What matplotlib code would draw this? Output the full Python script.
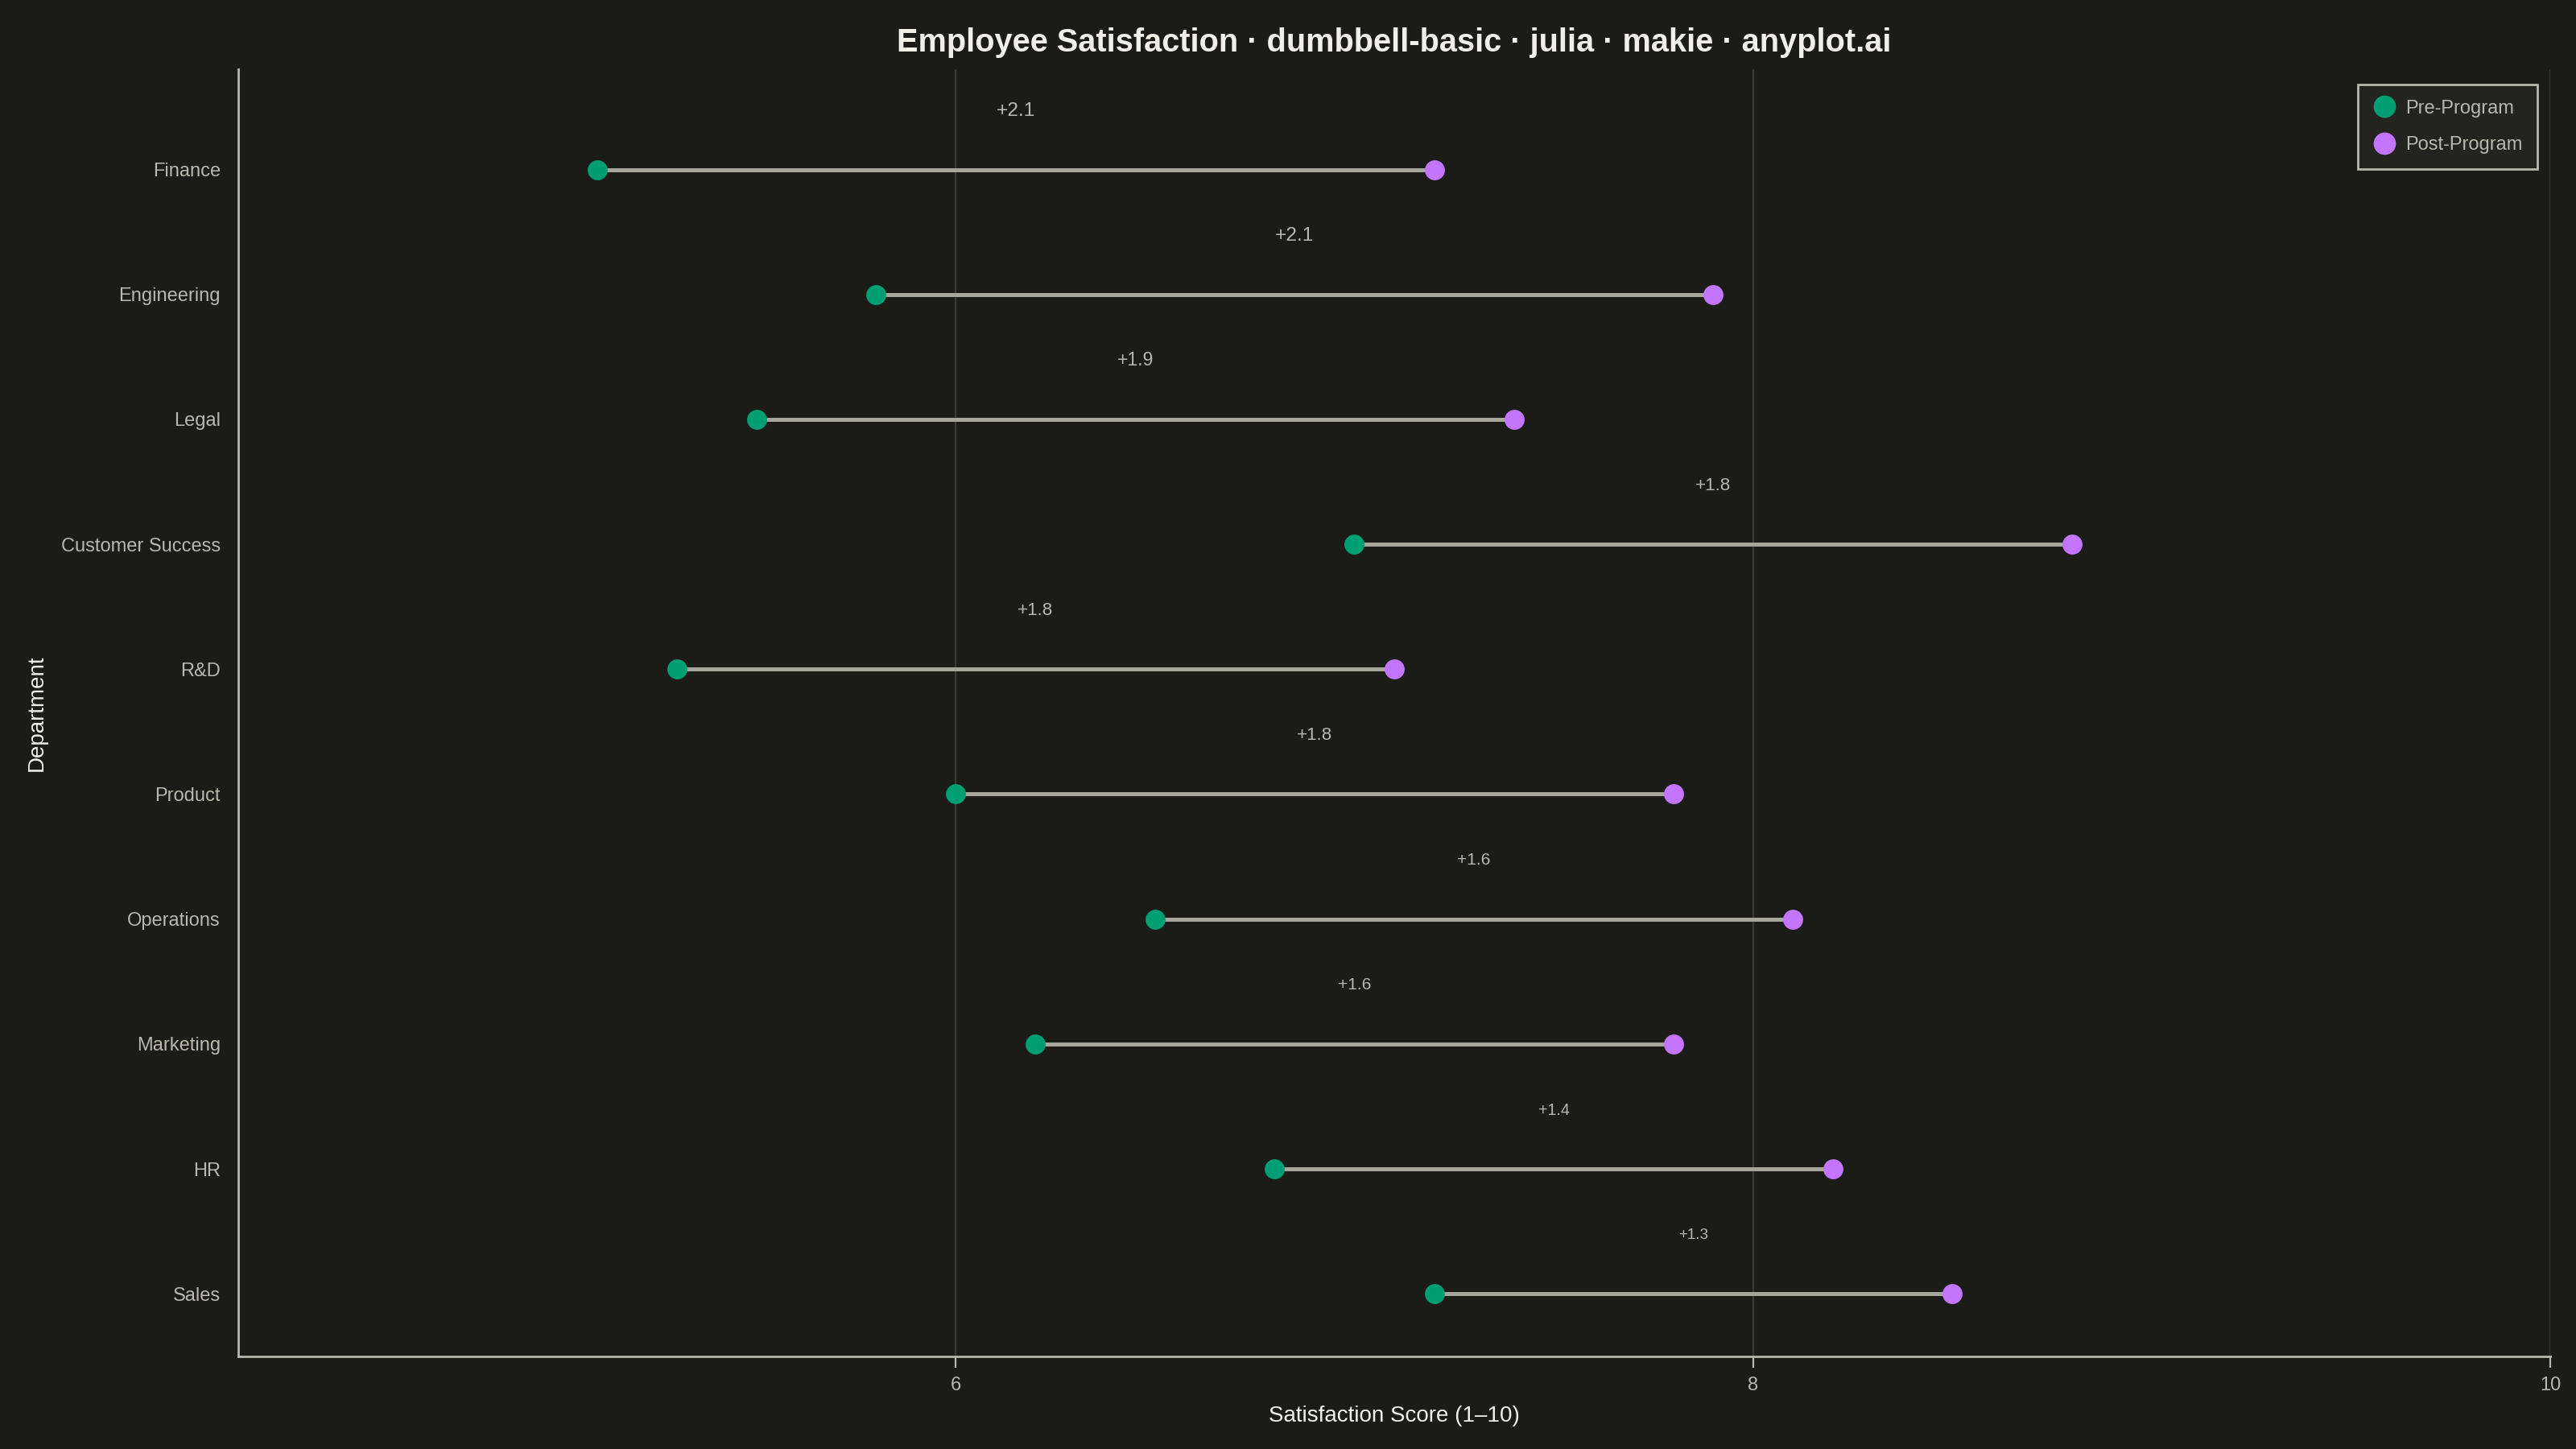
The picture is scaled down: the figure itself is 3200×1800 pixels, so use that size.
import matplotlib
matplotlib.use("Agg")
import matplotlib.pyplot as plt
from matplotlib.lines import Line2D

# data, top row first as in the chart
departments = ["Finance", "Engineering", "Legal", "Customer Success", "R&D",
               "Product", "Operations", "Marketing", "HR", "Sales"]
pre_scores = [5.1, 5.8, 5.5, 7.0, 5.3, 6.0, 6.5, 6.2, 6.8, 7.2]
post_scores = [7.2, 7.9, 7.4, 8.8, 7.1, 7.8, 8.1, 7.8, 8.2, 8.5]
x_ticks = [6, 8, 10]

BG = "#1b1b17"
FG = "#f0efe8"
MUTED = "#b8b8ae"
PRE = "#009E73"
POST = "#C475FD"
LINE = "#a6a69c"

plt.rcParams["font.family"] = ["Liberation Sans", "DejaVu Sans"]

fig = plt.figure(figsize=(16, 9), dpi=200, facecolor=BG)
ax = fig.add_axes([0.0925, 0.064, 0.8975, 0.888], facecolor=BG)

n = len(departments)
ys = [n - 1 - i for i in range(n)]
diffs = [b - a for a, b in zip(pre_scores, post_scores)]
dmin, dmax = min(diffs), max(diffs)

for y, a, b, d in zip(ys, pre_scores, post_scores, diffs):
    ax.plot([a, b], [y, y], color=LINE, lw=1.8, zorder=2, solid_capstyle="butt")
    fs = 6.8 + (d - dmin) / (dmax - dmin) * 2.0
    ax.text((a + b) / 2, y + 0.47, f"+{d:.1f}", color=MUTED, fontsize=fs,
            ha="center", va="center", zorder=4)

ax.scatter(pre_scores, ys, s=80, color=PRE, zorder=3, linewidths=0)
ax.scatter(post_scores, ys, s=80, color=POST, zorder=3, linewidths=0)

ax.set_xlim(4.2, 10)
ax.set_ylim(-0.5, 9.8)
ax.set_xticks(x_ticks)
ax.set_xticklabels([str(t) for t in x_ticks])
ax.set_yticks(ys)
ax.set_yticklabels(departments)

ax.grid(axis="x", color="#3a3a34", lw=0.8, zorder=0)
ax.set_axisbelow(True)
for side in ["top", "right"]:
    ax.spines[side].set_visible(False)
for side in ["left", "bottom"]:
    ax.spines[side].set_color(MUTED)
    ax.spines[side].set_linewidth(1.0)

ax.tick_params(axis="x", colors=MUTED, labelsize=8.5, length=5, width=0.8, direction="out", pad=4)
ax.tick_params(axis="y", colors=MUTED, labelsize=8.5, length=0, pad=8)

ax.set_xlabel("Satisfaction Score (1\u201310)", color=FG, fontsize=10, labelpad=5)
ax.set_ylabel("Department", color=FG, fontsize=10, labelpad=6)
ax.set_title("Employee Satisfaction \u00b7 dumbbell-basic \u00b7 julia \u00b7 makie \u00b7 anyplot.ai",
             color=FG, fontsize=14.3, fontweight="bold", pad=8)

handles = [
    Line2D([], [], marker="o", ls="", color=PRE, markersize=9, label="Pre-Program"),
    Line2D([], [], marker="o", ls="", color=POST, markersize=9, label="Post-Program"),
]
leg = ax.legend(handles=handles, loc="upper right", fontsize=8.5, frameon=True,
                facecolor="#23231f", edgecolor=MUTED, labelcolor=MUTED, fancybox=False,
                borderpad=0.8, labelspacing=1.0, handletextpad=0.5, handlelength=1.2,
                bbox_to_anchor=(0.997, 0.993), borderaxespad=0.3)
leg.get_frame().set_linewidth(1.0)
leg.get_frame().set_alpha(1)

fig.savefig("out.png", dpi=200, facecolor=BG)
